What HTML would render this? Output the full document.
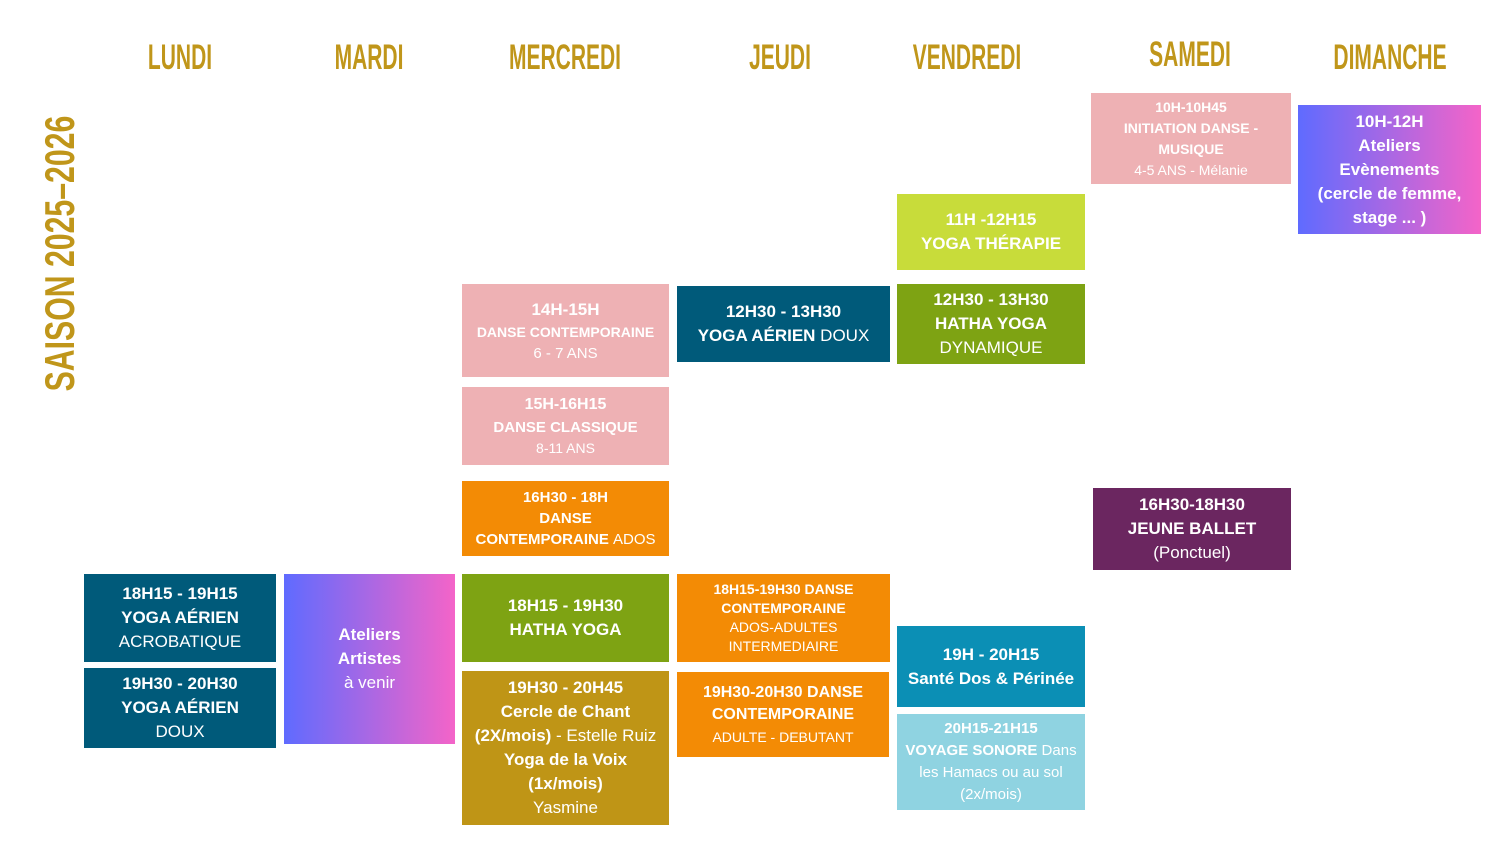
<!DOCTYPE html>
<html><head><meta charset="utf-8"><style>
body{margin:0;width:1500px;height:844px;background:#fff;position:relative;overflow:hidden;font-family:"Liberation Sans","DejaVu Sans",sans-serif}
.h{position:absolute;top:38px;width:200px;text-align:center;color:#c0961a;font-family:"Liberation Sans Narrow","Liberation Sans",sans-serif;font-weight:bold;font-size:35px;line-height:40px;transform:scaleX(0.6)}
.b{position:absolute;display:flex;flex-direction:column;justify-content:center;align-items:center;text-align:center;color:#fff;box-sizing:border-box;padding:0 4px}
.l{font-size:17px;font-weight:bold;line-height:24px}
.s{font-size:14px;line-height:21px}
.s b{font-weight:bold}
.n{font-weight:normal}
</style></head><body>
<div class="h" style="left:80px">LUNDI</div>
<div class="h" style="left:269px">MARDI</div>
<div class="h" style="left:465px">MERCREDI</div>
<div class="h" style="left:680px">JEUDI</div>
<div class="h" style="left:867px">VENDREDI</div>
<div class="h" style="left:1090px;top:35px">SAMEDI</div>
<div class="h" style="left:1290px">DIMANCHE</div>
<div style="position:absolute;left:-140px;top:234px;width:400px;height:40px;transform:rotate(-90deg);color:#c0961a;font-family:'Liberation Sans Narrow','Liberation Sans',sans-serif;font-weight:bold;font-size:42px;line-height:40px;text-align:center;white-space:nowrap"><span style="display:inline-block;transform:scaleX(0.72)">SAISON 2025–2026</span></div>

<div class="b s" style="left:1091px;top:93px;width:200px;height:91px;background:#eeb1b4"><b>10H-10H45<br>INITIATION DANSE -<br>MUSIQUE</b>4-5 ANS - Mélanie</div>
<div class="b l" style="left:1298px;top:105px;width:183px;height:129px;background:linear-gradient(90deg,#5f6bff,#f464c8)">10H-12H<br>Ateliers<br>Evènements<br>(cercle de femme,<br>stage ... )</div>
<div class="b l" style="left:897px;top:194px;width:188px;height:76px;background:#c8dc3a">11H -12H15<br>YOGA THÉRAPIE</div>
<div class="b" style="left:462px;top:284px;width:207px;height:93px;background:#eeb1b4"><div class="l">14H-15H</div><div class="s" style="font-weight:bold">DANSE CONTEMPORAINE</div><div class="s" style="font-size:15px">6 - 7 ANS</div></div>
<div class="b l" style="left:677px;top:286px;width:213px;height:76px;background:#005a7a">12H30 - 13H30<br><span>YOGA AÉRIEN <span class="n">DOUX</span></span></div>
<div class="b l" style="left:897px;top:284px;width:188px;height:80px;background:#7ea313">12H30 - 13H30<br>HATHA YOGA<br><span class="n">DYNAMIQUE</span></div>
<div class="b" style="left:462px;top:387px;width:207px;height:78px;background:#eeb1b4"><div class="l" style="font-size:16px">15H-16H15</div><div class="s" style="font-weight:bold;font-size:15px">DANSE CLASSIQUE</div><div class="s">8-11 ANS</div></div>
<div class="b s" style="left:462px;top:481px;width:207px;height:75px;background:#f38b05;font-size:15px"><b>16H30 - 18H<br>DANSE<br>CONTEMPORAINE <span class="n">ADOS</span></b></div>
<div class="b l" style="left:1093px;top:488px;width:198px;height:82px;background:#6b2660">16H30-18H30<br>JEUNE BALLET<br><span class="n">(Ponctuel)</span></div>
<div class="b l" style="left:84px;top:574px;width:192px;height:88px;background:#005a7a">18H15 - 19H15<br>YOGA AÉRIEN<br><span class="n">ACROBATIQUE</span></div>
<div class="b l" style="left:84px;top:668px;width:192px;height:80px;background:#005a7a">19H30 - 20H30<br>YOGA AÉRIEN<br><span class="n">DOUX</span></div>
<div class="b l" style="left:284px;top:574px;width:171px;height:170px;background:linear-gradient(90deg,#5f6bff,#f464c8)">Ateliers<br>Artistes<br><span class="n">à venir</span></div>
<div class="b l" style="left:462px;top:574px;width:207px;height:88px;background:#7ea313">18H15 - 19H30<br>HATHA YOGA</div>
<div class="b l" style="left:462px;top:671px;width:207px;height:154px;background:#bf9516">19H30 - 20H45<br>Cercle de Chant<br><span>(2X/mois) <span class="n">- Estelle Ruiz</span></span>Yoga de la Voix<br>(1x/mois)<br><span class="n">Yasmine</span></div>
<div class="b s" style="left:677px;top:574px;width:213px;height:88px;background:#f38b05;line-height:19px"><b>18H15-19H30 DANSE<br>CONTEMPORAINE</b>ADOS-ADULTES<br>INTERMEDIAIRE</div>
<div class="b s" style="left:677px;top:672px;width:212px;height:85px;background:#f38b05;line-height:22px"><b style="font-size:16px">19H30-20H30 DANSE<br>CONTEMPORAINE</b>ADULTE - DEBUTANT</div>
<div class="b l" style="left:897px;top:626px;width:188px;height:81px;background:#0b8fb5">19H - 20H15<br>Santé Dos &amp; Périnée</div>
<div class="b s" style="left:897px;top:714px;width:188px;height:96px;background:#8fd3e1;font-size:15px;line-height:22px"><b>20H15-21H15</b><span><b>VOYAGE SONORE</b> Dans les Hamacs ou au sol (2x/mois)</span></div>
</body></html>
